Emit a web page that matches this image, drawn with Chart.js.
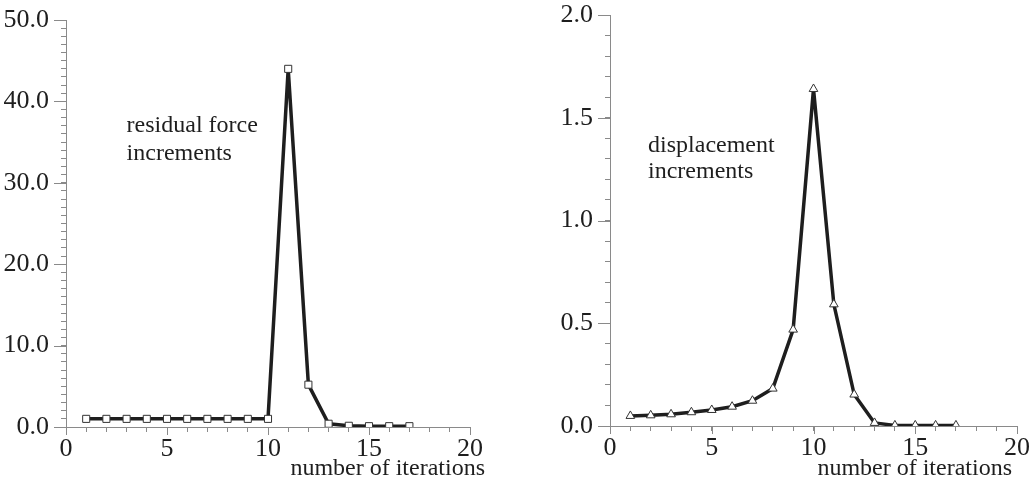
<!DOCTYPE html>
<html>
<head>
<meta charset="utf-8">
<script src="https://cdn.jsdelivr.net/npm/chart.js@4"></script>
<style>
  html, body { margin: 0; padding: 0; background: #fff; }
  #wrap { position: relative; width: 1032px; height: 484px; }
  .box { position: absolute; top: 0; height: 484px; }
  #left { left: 0; width: 520px; }
  #right { left: 520px; width: 512px; }
</style>
</head>
<body>
<div id="wrap">
  <div class="box" id="left"><canvas id="forceChart"></canvas></div>
  <div class="box" id="right"><canvas id="dispChart"></canvas></div>
</div>
<script>
// data
const iterations = [1, 2, 3, 4, 5, 6, 7, 8, 9, 10, 11, 12, 13, 14, 15, 16, 17];
const residualForce = [1.0, 1.0, 1.0, 1.0, 1.0, 1.0, 1.0, 1.0, 1.0, 1.0, 44.0, 5.2, 0.4, 0.15, 0.1, 0.1, 0.1];
const displacement = [0.049, 0.052, 0.057, 0.067, 0.078, 0.094, 0.123, 0.182, 0.469, 1.64, 0.592, 0.153, 0.015, 0.003, 0.003, 0.003, 0.003];

const xTickLabels = [0, 5, 10, 15, 20];
const forceTickLabels = [0, 10, 20, 30, 40, 50];
const dispTickLabels = [0, 0.5, 1.0, 1.5, 2.0];

const axisColor = "#8a8a8a";
const inkColor = "#1e1e1e";
const serif = "'Liberation Serif', 'DejaVu Serif', serif";

// longer ticks at labelled values, plus free text
const extrasPlugin = {
  id: "extras",
  afterDraw(chart, args, opts) {
    const ctx = chart.ctx;
    const xs = chart.scales.x, ys = chart.scales.y;
    ctx.save();
    ctx.strokeStyle = axisColor;
    ctx.lineWidth = 1;
    ctx.beginPath();
    opts.xMajor.forEach(v => {
      const px = Math.round(xs.getPixelForValue(v)) + 0.5;
      ctx.moveTo(px, ys.bottom);
      ctx.lineTo(px, ys.bottom + 8);
    });
    opts.yMajor.forEach(v => {
      const py = Math.round(ys.getPixelForValue(v)) + 0.5;
      ctx.moveTo(xs.left - 12, py);
      ctx.lineTo(xs.left, py);
    });
    ctx.stroke();

    ctx.fillStyle = inkColor;
    ctx.font = "24px " + serif;
    ctx.textBaseline = "alphabetic";
    opts.texts.forEach(t => {
      ctx.textAlign = t.align || "left";
      const px = t.px !== undefined ? t.px : xs.getPixelForValue(t.x);
      const py = t.py !== undefined ? t.py : ys.getPixelForValue(t.y);
      ctx.fillText(t.text, px, py);
    });
    ctx.restore();
  }
};

function makeChart(id, values, yMax, yStep, yLabels, decimals, pointStyle, layout, texts) {
  const ctx = document.getElementById(id).getContext("2d");
  return new Chart(ctx, {
    type: "line",
    data: {
      labels: iterations,
      datasets: [{
        data: iterations.map((x, i) => ({ x: x, y: values[i] })),
        borderColor: inkColor,
        borderWidth: 3.5,
        pointStyle: pointStyle,
        pointRadius: 5,
        pointBackgroundColor: "#ffffff",
        pointBorderColor: "#333333",
        pointBorderWidth: 1,
        tension: 0,
        fill: false
      }]
    },
    options: {
      responsive: true,
      maintainAspectRatio: false,
      animation: false,
      layout: { padding: { top: layout.top, right: layout.right, left: 0, bottom: 0 } },
      plugins: {
        legend: { display: false },
        tooltip: { enabled: false },
        extras: { xMajor: xTickLabels, yMajor: yLabels, texts: texts }
      },
      scales: {
        x: {
          type: "linear",
          min: 0,
          max: 20,
          afterFit: s => {
            s.height = 484 - layout.bottom;
            s.paddingLeft = 0;
            s.paddingRight = 0;
          },
          ticks: {
            stepSize: 1,
            autoSkip: false,
            maxRotation: 0,
            padding: 2,
            color: inkColor,
            font: { family: serif, size: 26 },
            callback: v => (xTickLabels.includes(v) ? String(v) : "")
          },
          grid: { drawOnChartArea: false, tickLength: 5, color: axisColor },
          border: { color: axisColor, width: 1 }
        },
        y: {
          min: 0,
          max: yMax,
          afterFit: s => {
            s.width = layout.left;
            s.paddingTop = 0;
            s.paddingBottom = 0;
          },
          ticks: {
            stepSize: yStep,
            autoSkip: false,
            padding: 12,
            color: inkColor,
            font: { family: serif, size: 26 },
            callback: v => {
              const hit = yLabels.find(l => Math.abs(l - v) < yStep / 10);
              return hit !== undefined ? hit.toFixed(decimals) : "";
            }
          },
          grid: { drawOnChartArea: false, tickLength: 5, color: axisColor },
          border: { color: axisColor, width: 1 }
        }
      }
    },
    plugins: [extrasPlugin]
  });
}

makeChart("forceChart", residualForce, 50, 1, forceTickLabels, 1, "rect",
  { top: 20, right: 50, left: 66, bottom: 427 },
  [
    { text: "residual force", x: 3.0, y: 36.3 },
    { text: "increments", x: 3.0, y: 32.8 },
    { text: "number of iterations", px: 485, py: 475, align: "right" }
  ]);

makeChart("dispChart", displacement, 2.0, 0.1, dispTickLabels, 1, "triangle",
  { top: 15, right: 15, left: 90, bottom: 426 },
  [
    { text: "displacement", x: 1.87, y: 1.333 },
    { text: "increments", x: 1.87, y: 1.207 },
    { text: "number of iterations", px: 492, py: 475, align: "right" }
  ]);
</script>
</body>
</html>
